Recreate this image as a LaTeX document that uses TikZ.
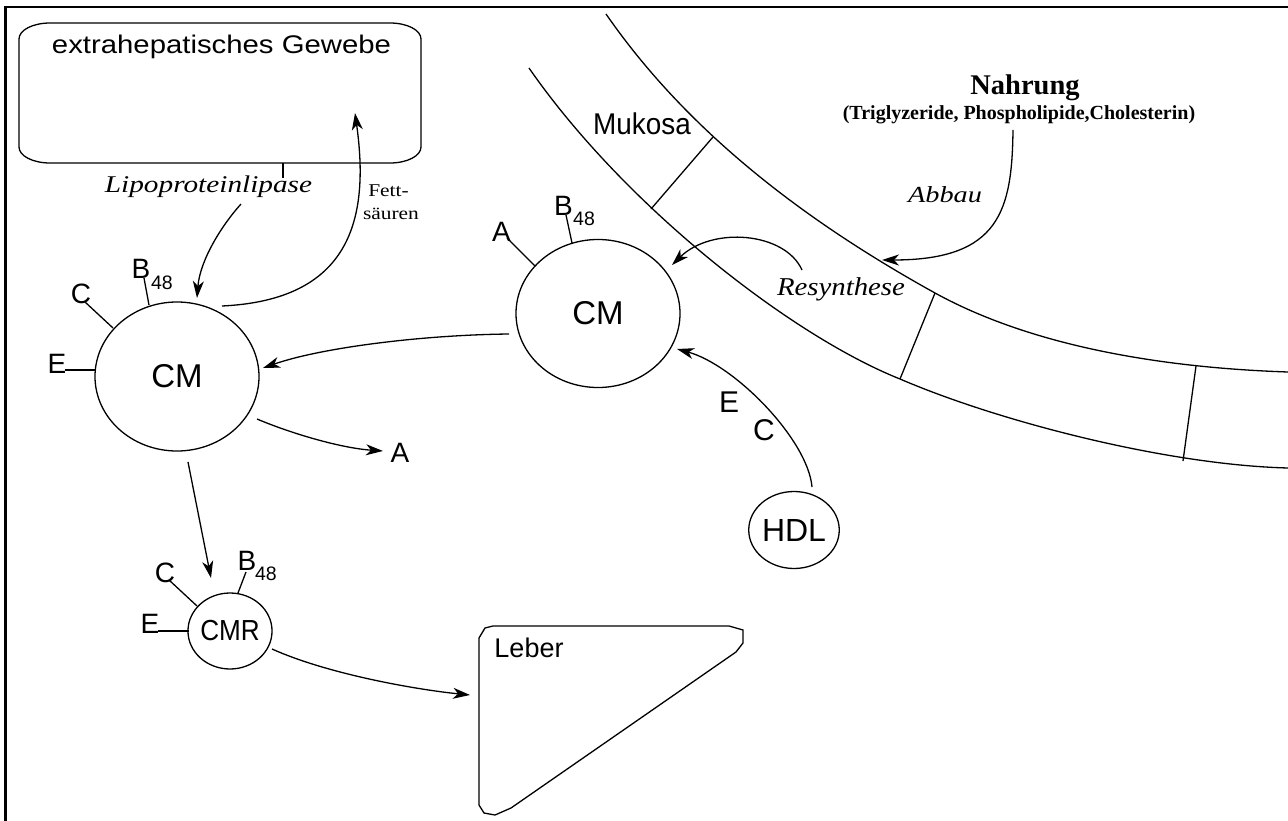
\documentclass[tikz,border=0pt]{standalone}
\usepackage{fontspec}
\usepackage{graphicx}
\setmainfont{Liberation Serif}
\setsansfont{Liberation Sans}
\usetikzlibrary{shapes.geometric,arrows.meta}
\newcommand{\fsz}[1]{\fontsize{#1}{#1}\selectfont}
\begin{document}
\begin{tikzpicture}[x=1pt,y=-1pt,
  ln/.style={line width=1.3pt},
  arr/.style={line width=1.3pt,-{Stealth[length=17pt,width=11pt,inset=5pt]}},
  txt/.style={inner sep=0pt, outer sep=0pt, anchor=base},
  lbl/.style={txt, font=\sffamily\fsz{28}},
  idx/.style={txt, font=\sffamily\fsz{19.5}},
  ell/.style={draw, ellipse, line width=1.3pt, inner sep=0pt, font=\sffamily\fsz{33}},
]
\useasboundingbox (0,0) rectangle (1288,821);
\fill[white] (0,0) rectangle (1288,821);

% frame
\draw[line width=2.5pt] (1288,7) -- (5.5,7) -- (5.5,821);

% extrahepatisches Gewebe box
\draw[ln] (50,23) -- (390,23) .. controls (407,23) and (421,30) .. (421,39)
  -- (421,147) .. controls (421,156) and (407,163) .. (390,163)
  -- (50,163) .. controls (33,163) and (19,156) .. (19,147)
  -- (19,39) .. controls (19,30) and (33,23) .. (50,23) -- cycle;
\node[txt, font=\sffamily\fsz{25.5}] (gewtxt) at (221.5,54) {\scalebox{1.15}[1]{extrahepatisches Gewebe}};
\coordinate (gewb) at (283,163);
\coordinate (lplp) at (283,178);
\draw[ln] (gewb) -- (lplp);

\node[txt, font=\itshape\fsz{24}] (lpl) at (208.5,193) {\scalebox{1.22}[1]{Lipoproteinlipase}};
\node[txt, font=\fsz{18}] (fett) at (388.5,197) {\scalebox{1.19}[1]{Fett-}};
\node[txt, font=\fsz{18}] (saeuren) at (391,220) {\scalebox{1.19}[1]{säuren}};

% left CM
\node[ell, minimum width=164, minimum height=149] (cmL) at (177,376.5) {CM};
\node[lbl] (eL) at (57,373) {E};
\node[lbl] (cL) at (81,303) {C};
\node[lbl] (bL) at (141,278) {B};
\node[idx] (bLi) at (162,289) {48};
\draw[ln] (95,370) -- (65,370);
\draw[ln] (113,328) -- (85,302);
\draw[ln] (149,305) -- (144,278);

\coordinate (lplS) at (241,204);
\coordinate (lplE) at (197,298);
\draw[arr] (lplS) .. controls (222,225) and (200,260) .. (lplE);
\coordinate (fsS) at (222,306);
\coordinate (fsE) at (355,113);
\draw[arr] (fsS) .. controls (350,300) and (370,220) .. (fsE);

% A
\node[lbl] (aL) at (400,462) {A};
\draw[arr] (257,419) .. controls (290,433) and (340,448) .. (383,451);

% right CM
\node[ell, minimum width=164, minimum height=148] (cmR) at (598,313.5) {CM};
\node[lbl] (aR) at (501.5,241) {A};
\node[lbl] (bR) at (563.5,216) {B};
\node[idx] (bRi) at (584,226) {48};
\draw[ln] (535,266) -- (507,238);
\draw[ln] (572,243) -- (566,215);

\coordinate (cmRl) at (509,334);
\coordinate (cmLr) at (263,368);
\draw[arr] (cmRl) .. controls (420,335) and (320,348) .. (cmLr);

% CMR
\node[ell, minimum width=81, minimum height=76, font=\sffamily\fsz{29}] (cmr) at (230,631) {\scalebox{0.9}[1]{CMR}};
\node[lbl] (eR) at (150,633) {E};
\node[lbl] (cR) at (165,582) {C};
\node[lbl] (bRR) at (247,570) {B};
\node[idx] (bRRi) at (266,580) {48};
\draw[ln] (189,631) -- (158,631);
\draw[ln] (197,606) -- (169,580);
\draw[ln] (238,593) -- (246,572);

\coordinate (cmLb) at (188,462);
\coordinate (cmrT) at (211,578);
\draw[arr] (cmLb) -- (cmrT);

% Leber
\draw[ln] (479,638) -- (485,628) -- (493,626) -- (729,626) -- (743,630) -- (743,643)
  -- (736,652) -- (511,808) -- (495,815) -- (484,813) -- (479,805) -- cycle;
\node[lbl, font=\sffamily\fsz{27}] (leber) at (529,657) {Leber};
\coordinate (cmrR) at (272,649);
\coordinate (leberL) at (470,695);
\draw[arr] (cmrR) .. controls (330,675) and (420,690) .. (leberL);

% HDL
\node[ell, minimum width=86, minimum height=77, font=\sffamily\fsz{32}] (hdl) at (794,530) {HDL};
\node[lbl, font=\sffamily\fsz{30}] (eH) at (729,412) {E};
\node[lbl, font=\sffamily\fsz{30}] (cH) at (764,440) {C};
\coordinate (hdlT) at (812,487);
\coordinate (cmRr) at (677,349);
\draw[arr] (hdlT) .. controls (808,440) and (735,365) .. (cmRr);

% intestinal wall
\draw[ln] (606,14) .. controls (696,144) and (825,232) .. (935,293)
  .. controls (1035,348) and (1168,368) .. (1288,372);
\draw[ln] (529,68) .. controls (624,205) and (790,335) .. (900,379)
  .. controls (1000,422) and (1168,465) .. (1288,468);
\draw[ln] (713,137) -- (651,209);
\draw[ln] (935,293) -- (900,379);
\draw[ln] (1196,366) -- (1183,461);
\node[lbl, font=\sffamily\fsz{30}] (muk) at (642,135) {\scalebox{0.93}[1]{Mukosa}};

% Nahrung
\node[txt, font=\bfseries\fsz{28.5}] (nahr) at (1025,95) {Nahrung};
\node[txt, font=\bfseries\fsz{20}] (nahrsub) at (1019,120) {(Triglyzeride, Phospholipide,Cholesterin)};
\node[txt, font=\itshape\fsz{23}] (abbau) at (945,203) {\scalebox{1.23}[1]{Abbau}};
\coordinate (nahrB) at (1013,130);
\coordinate (wallP) at (882,260);
\draw[arr] (nahrB) .. controls (1012,210) and (1000,260) .. (wallP);

\node[txt, font=\itshape\fsz{25.7}] (resyn) at (841,295) {\scalebox{1.12}[1]{Resynthese}};
\coordinate (resS) at (802,270);
\coordinate (cmRt) at (672,265);
\draw[arr] (resS) .. controls (785,232) and (712,226) .. (cmRt);
\end{tikzpicture}
\end{document}
